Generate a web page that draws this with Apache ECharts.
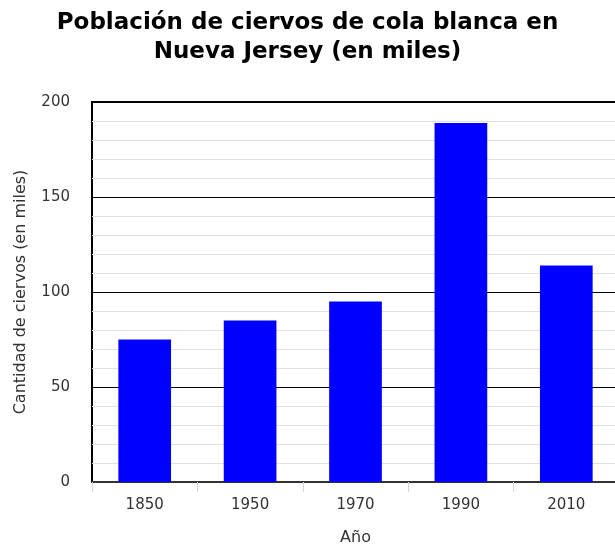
<!DOCTYPE html>
<html>
<head>
<meta charset="utf-8">
<script src="https://cdn.jsdelivr.net/npm/echarts@6/dist/echarts.min.js"></script>
<style>html,body{margin:0;padding:0;background:#fff;overflow:hidden}#c{width:615px;height:546px}</style>
</head>
<body>
<div id="c"></div>
<script>
const categories = ['1850', '1950', '1970', '1990', '2010'];
const deerValues = [75, 85, 95, 189, 114];
const titleText = 'Población de ciervos de cola blanca en\nNueva Jersey (en miles)';
const yAxisName = 'Cantidad de ciervos (en miles)';
const xAxisName = 'Año';

const FONT = 'DejaVu Sans';
const chart = echarts.init(document.getElementById('c'), null, {renderer: 'canvas'});
chart.setOption({
  animation: false,
  title: {
    text: titleText,
    left: 'center',
    top: 4,
    textStyle: {fontFamily: FONT, fontWeight: 'bold', fontSize: 23, lineHeight: 29, color: '#000'}
  },
  grid: {
    left: 92, top: 102, width: 527, height: 380,
    containLabel: false,
    outerBoundsMode: 'none',
    show: true, borderColor: '#000', borderWidth: 2, backgroundColor: 'transparent'
  },
  xAxis: {
    type: 'category',
    data: categories,
    name: xAxisName,
    nameLocation: 'middle',
    nameGap: 48,
    nameTextStyle: {fontFamily: FONT, fontSize: 16, color: '#333'},
    axisLine: {show: true, lineStyle: {color: '#333', width: 2}},
    axisTick: {show: true, length: 10, lineStyle: {color: '#ccd6eb', width: 1}},
    axisLabel: {fontFamily: FONT, fontSize: 15, color: '#333', margin: 16},
    splitLine: {show: false}
  },
  yAxis: {
    type: 'value',
    min: 0, max: 200, interval: 50,
    name: yAxisName,
    nameLocation: 'middle',
    nameGap: 63,
    nameRotate: 90,
    nameTextStyle: {fontFamily: FONT, fontSize: 16, color: '#333'},
    axisLine: {show: false},
    axisTick: {show: false},
    axisLabel: {fontFamily: FONT, fontSize: 15, color: '#333', margin: 22},
    splitLine: {show: true, lineStyle: {color: '#000', width: 1}},
    minorTick: {show: false, splitNumber: 5},
    minorSplitLine: {show: true, lineStyle: {color: '#e0e0e0', width: 1}}
  },
  series: [{
    type: 'bar',
    data: deerValues,
    barWidth: '50%',
    itemStyle: {color: '#0000ff'}
  }]
});
</script>
</body>
</html>
